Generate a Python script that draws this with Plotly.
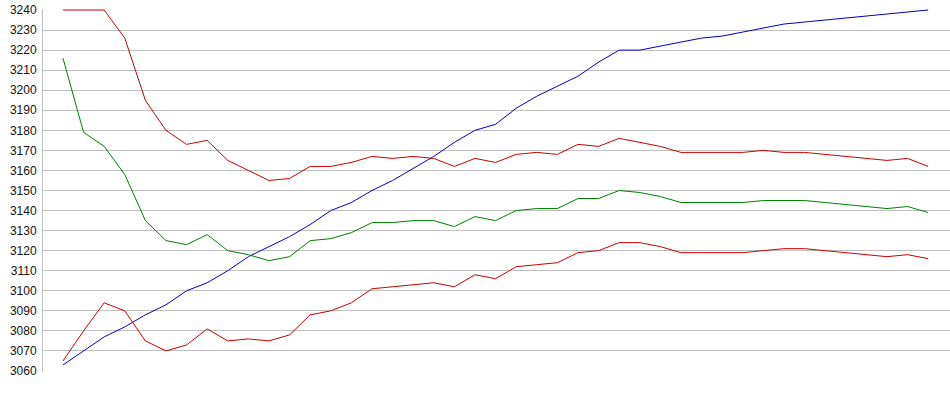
import plotly.graph_objects as go

x_index = list(range(43))

upper_red = [3240, 3240, 3240, 3226, 3195, 3180, 3173, 3175, 3165, 3160, 3155, 3156,
             3162, 3162, 3164, 3167, 3166, 3167, 3166, 3162, 3166, 3164, 3168, 3169,
             3168, 3173, 3172, 3176, 3174, 3172, 3169, 3169, 3169, 3169, 3170, 3169,
             3169, 3168, 3167, 3166, 3165, 3166, 3162]

green = [3216, 3179, 3172, 3158, 3135, 3125, 3123, 3128, 3120, 3118, 3115, 3117,
         3125, 3126, 3129, 3134, 3134, 3135, 3135, 3132, 3137, 3135, 3140, 3141,
         3141, 3146, 3146, 3150, 3149, 3147, 3144, 3144, 3144, 3144, 3145, 3145,
         3145, 3144, 3143, 3142, 3141, 3142, 3139]

blue = [3063, 3070, 3077, 3082, 3088, 3093, 3100, 3104, 3110, 3117, 3122, 3127,
        3133, 3140, 3144, 3150, 3155, 3161, 3167, 3174, 3180, 3183, 3191, 3197,
        3202, 3207, 3214, 3220, 3220, 3222, 3224, 3226, 3227, 3229, 3231, 3233,
        3234, 3235, 3236, 3237, 3238, 3239, 3240]

lower_red = [3065, 3080, 3094, 3090, 3075, 3070, 3073, 3081, 3075, 3076, 3075, 3078,
             3088, 3090, 3094, 3101, 3102, 3103, 3104, 3102, 3108, 3106, 3112, 3113,
             3114, 3119, 3120, 3124, 3124, 3122, 3119, 3119, 3119, 3119, 3120, 3121,
             3121, 3120, 3119, 3118, 3117, 3118, 3116]

y_ticks = list(range(3060, 3241, 10))

fig = go.Figure()
fig.add_trace(go.Scatter(x=x_index, y=blue, mode="lines",
                         line=dict(color="#0000CC", width=1), name="blue"))
fig.add_trace(go.Scatter(x=x_index, y=upper_red, mode="lines",
                         line=dict(color="#CC0000", width=1), name="upper"))
fig.add_trace(go.Scatter(x=x_index, y=green, mode="lines",
                         line=dict(color="#008000", width=1), name="middle"))
fig.add_trace(go.Scatter(x=x_index, y=lower_red, mode="lines",
                         line=dict(color="#CC0000", width=1), name="lower"))

fig.update_layout(
    width=950, height=395,
    margin=dict(l=43, r=0, t=9, b=23),
    paper_bgcolor="white", plot_bgcolor="white",
    showlegend=False,
    font=dict(family="Liberation Sans, Arial, sans-serif", size=12, color="#111111"),
)
fig.update_xaxes(range=[-0.97, 43.06], showgrid=False, showticklabels=False,
                 zeroline=False, showline=False, ticks="")
fig.update_yaxes(range=[3059.5, 3240.5], tickvals=y_ticks,
                 ticktext=[str(v) for v in y_ticks],
                 showgrid=True, gridcolor="#C0C0C0", gridwidth=1,
                 zeroline=False, showline=True, linecolor="#C0C0C0", linewidth=1,
                 ticks="", ticklabelstandoff=3)

fig.write_html("out.html",
               config={"displayModeBar": False},
               post_script="document.body.style.margin='0';document.body.style.overflow='hidden';")
